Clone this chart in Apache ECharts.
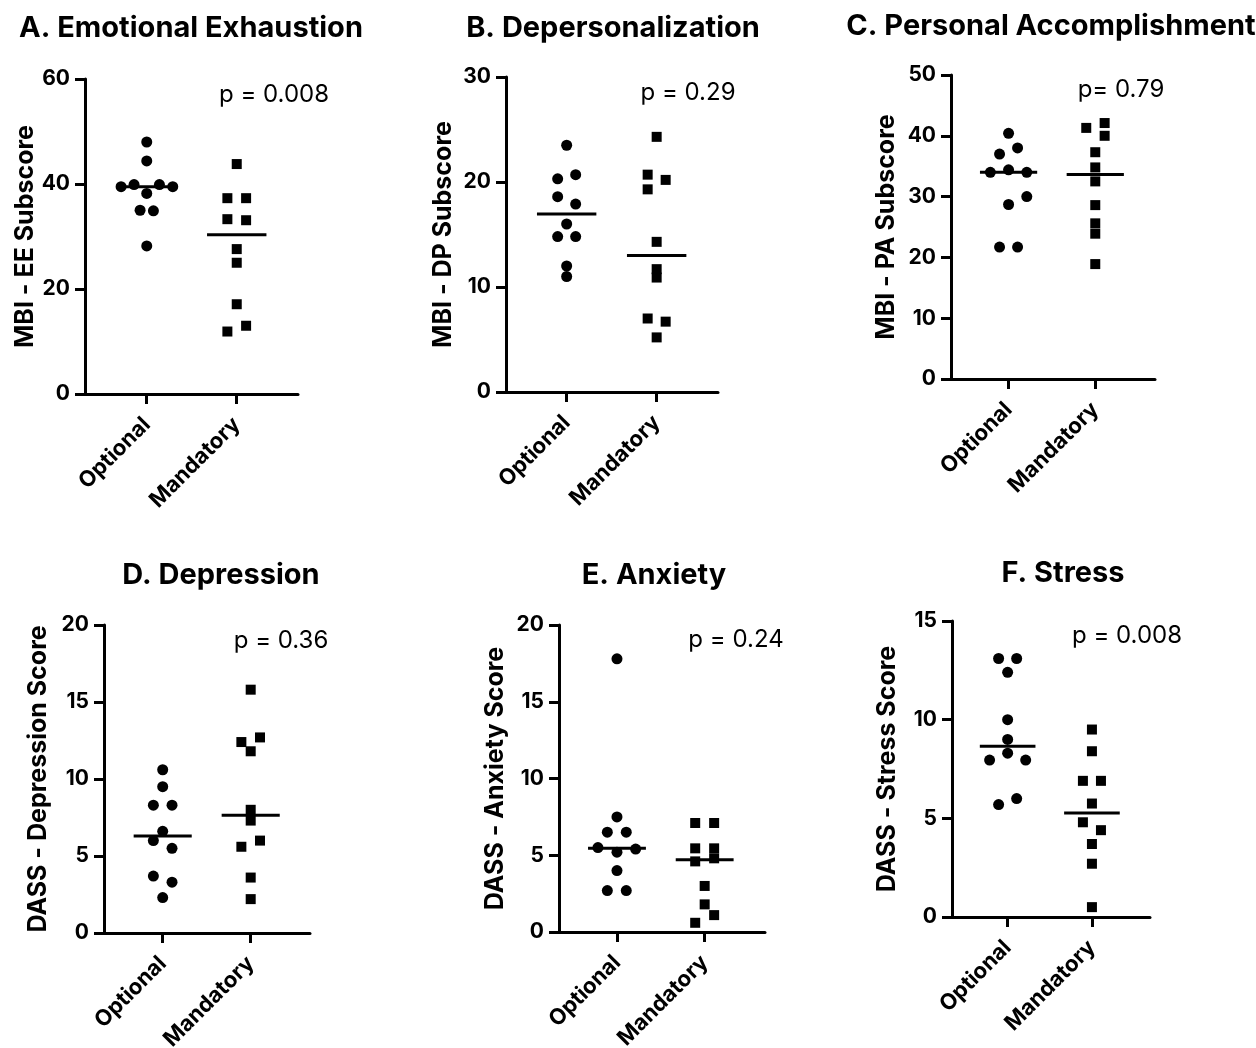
<!DOCTYPE html>
<html>
<head>
<meta charset="utf-8">
<script src="https://cdn.jsdelivr.net/npm/echarts@6/dist/echarts.min.js"></script>
<style>
  html, body { margin: 0; padding: 0; background: #fff; }
  #chart { width: 1256px; height: 1048px; }
</style>
</head>
<body>
<div id="chart"></div>
<script>
// group labels on the x axis
const groups = ['Optional', 'Mandatory'];

// A. Emotional Exhaustion
const eeOptional = [48.0, 44.4, 39.5, 39.9, 39.9, 39.5, 38.2, 35.0, 34.9, 28.2];
const eeOptionalJitter = [0, 0, -0.285, -0.141, 0.141, 0.289, 0, -0.074, 0.074, 0];
const eeMandatory = [43.8, 37.3, 37.3, 33.3, 33.1, 27.6, 25.0, 17.1, 13.0, 11.9];
const eeMandatoryJitter = [0, -0.104, 0.104, -0.104, 0.104, 0, 0, 0, 0.104, -0.104];

// B. Depersonalization
const dpOptional = [23.5, 20.3, 20.7, 18.6, 17.9, 16.0, 14.8, 14.8, 12.0, 11.0];
const dpOptionalJitter = [0, -0.1, 0.1, -0.1, 0.1, 0, -0.1, 0.1, 0, 0];
const dpMandatory = [24.3, 20.7, 20.2, 19.3, 14.3, 11.7, 10.9, 7.0, 6.7, 5.2];
const dpMandatoryJitter = [0, -0.1, 0.1, -0.1, 0, 0, 0, -0.1, 0.1, 0];

// C. Personal Accomplishment
const paOptional = [40.4, 38.0, 37.0, 34.0, 34.4, 34.0, 30.0, 28.7, 21.7, 21.7];
const paOptionalJitter = [0, 0.104, -0.104, -0.21, 0, 0.21, 0.21, 0, -0.104, 0.104];
const paMandatory = [41.3, 42.1, 40.0, 37.3, 34.8, 32.5, 28.6, 25.6, 23.9, 18.9];
const paMandatoryJitter = [-0.104, 0.108, 0.108, 0, 0, 0, 0, 0, 0, 0];

// D. Depression
const depOptional = [10.6, 9.5, 8.3, 8.3, 6.6, 6.0, 5.5, 3.7, 3.3, 2.3];
const depOptionalJitter = [0, 0, -0.106, 0.106, 0, -0.106, 0.106, -0.106, 0.106, 0];
const depMandatory = [15.8, 12.7, 12.4, 11.8, 8.0, 7.3, 6.0, 5.6, 3.6, 2.2];
const depMandatoryJitter = [0, 0.106, -0.106, 0, 0, 0, 0.106, -0.106, 0, 0];

// E. Anxiety
const anxOptional = [17.8, 7.5, 6.5, 6.5, 5.5, 5.2, 5.4, 4.0, 2.7, 2.7];
const anxOptionalJitter = [0, 0, -0.11, 0.106, -0.217, 0, 0.213, 0, -0.11, 0.106];
const anxMandatory = [7.1, 7.1, 5.45, 5.45, 4.6, 4.8, 3.0, 1.8, 1.1, 0.6];
const anxMandatoryJitter = [-0.108, 0.108, -0.108, 0.108, -0.108, 0.108, 0, 0, 0.108, -0.108];

// F. Stress
const strOptional = [13.1, 13.1, 12.4, 10.0, 9.0, 8.3, 7.95, 7.95, 6.0, 5.7];
const strOptionalJitter = [-0.107, 0.107, 0, 0, 0, 0, -0.214, 0.214, 0.107, -0.107];
const strMandatory = [9.5, 8.4, 6.9, 6.9, 5.75, 4.8, 4.4, 3.7, 2.7, 0.5];
const strMandatoryJitter = [0, 0, -0.107, 0.107, 0, -0.107, 0.107, 0, 0, 0];

const titles = ['A. Emotional Exhaustion', 'B. Depersonalization', 'C. Personal Accomplishment',
                'D. Depression', 'E. Anxiety', 'F. Stress'];
const yNames = ['MBI - EE Subscore', 'MBI - DP Subscore', 'MBI - PA Subscore',
                'DASS - Depression Score', 'DASS - Anxiety Score', 'DASS - Stress Score'];
const pLabels = ['p = 0.008', 'p = 0.29', 'p= 0.79', 'p = 0.36', 'p = 0.24', 'p = 0.008'];
const yMax = [60, 30, 50, 20, 20, 15];
const yStep = [20, 10, 10, 5, 5, 5];

const panelData = [
    [eeOptional, eeOptionalJitter, eeMandatory, eeMandatoryJitter],
    [dpOptional, dpOptionalJitter, dpMandatory, dpMandatoryJitter],
    [paOptional, paOptionalJitter, paMandatory, paMandatoryJitter],
    [depOptional, depOptionalJitter, depMandatory, depMandatoryJitter],
    [anxOptional, anxOptionalJitter, anxMandatory, anxMandatoryJitter],
    [strOptional, strOptionalJitter, strMandatory, strMandatoryJitter]
];

// layout of each panel in pixels
const layout = [
    { left: 85, top: 79, width: 213, height: 315, xMin: 0.314, span: 90, gap: 45, title: [191, 28], p: [274, 95] },
    { left: 506, top: 77, width: 212, height: 315, xMin: 0.326, span: 90, gap: 50, title: [613, 28], p: [688, 93] },
    { left: 951, top: 75, width: 204, height: 304, xMin: 0.336, span: 86.7, gap: 52, title: [1051, 26], p: [1121, 90] },
    { left: 104, top: 625, width: 206, height: 308, xMin: 0.333, span: 88, gap: 53, title: [221, 575], p: [281, 641] },
    { left: 559, top: 625, width: 206, height: 307, xMin: 0.339, span: 87.7, gap: 51, title: [654, 575], p: [736, 640] },
    { left: 952, top: 621, width: 198, height: 296, xMin: 0.34, span: 84.3, gap: 52, title: [1063, 573], p: [1127, 636] }
];

const FONT = 'Inter';
const MEDIAN_HALF = 0.33;

function median(values) {
    const s = values.slice().sort((a, b) => a - b);
    const m = Math.floor(s.length / 2);
    return s.length % 2 ? s[m] : (s[m - 1] + s[m]) / 2;
}

function jittered(values, jitter, center) {
    return values.map((v, i) => [center + jitter[i], v]);
}

const grid = [], xAxis = [], yAxis = [], series = [], graphic = [];

layout.forEach((L, i) => {
    grid.push({ left: L.left, top: L.top, width: L.width, height: L.height,
                containLabel: false, outerBoundsMode: 'none' });

    xAxis.push({
        gridIndex: i,
        type: 'value',
        min: L.xMin,
        max: L.xMin + L.width / L.span,
        splitLine: { show: false },
        axisLine: { show: true, onZero: false, lineStyle: { color: '#000', width: 3 } },
        axisTick: { show: true, customValues: [1, 2], length: 10, lineStyle: { color: '#000', width: 3 } },
        axisLabel: {
            customValues: [1, 2],
            formatter: v => groups[Math.round(v) - 1],
            rotate: 45,
            margin: 27,
            color: '#000',
            fontFamily: FONT,
            fontWeight: 'bold',
            fontSize: 22
        }
    });

    yAxis.push({
        gridIndex: i,
        type: 'value',
        min: 0,
        max: yMax[i],
        interval: yStep[i],
        name: yNames[i],
        nameLocation: 'middle',
        nameGap: L.gap,
        nameTextStyle: { color: '#000', fontFamily: FONT, fontWeight: 'bold', fontSize: 25 },
        splitLine: { show: false },
        axisLine: { show: true, lineStyle: { color: '#000', width: 3 } },
        axisTick: { show: true, length: 10, lineStyle: { color: '#000', width: 3 } },
        axisLabel: { margin: 15, color: '#000', fontFamily: FONT, fontWeight: 'bold', fontSize: 21 }
    });

    const [opt, optJit, man, manJit] = panelData[i];

    series.push({
        type: 'scatter', xAxisIndex: i, yAxisIndex: i,
        symbol: 'circle', symbolSize: 11,
        itemStyle: { color: '#000', opacity: 1 },
        data: jittered(opt, optJit, 1)
    });
    series.push({
        type: 'scatter', xAxisIndex: i, yAxisIndex: i,
        symbol: 'rect', symbolSize: 10,
        itemStyle: { color: '#000', opacity: 1 },
        data: jittered(man, manJit, 2)
    });
    [[opt, 1], [man, 2]].forEach(([vals, c]) => {
        const m = median(vals);
        series.push({
            type: 'line', xAxisIndex: i, yAxisIndex: i,
            symbol: 'none', silent: true,
            lineStyle: { color: '#000', width: 3 },
            data: [[c - MEDIAN_HALF, m], [c + MEDIAN_HALF, m]]
        });
    });

    graphic.push({
        type: 'text', x: L.title[0], y: L.title[1],
        style: { text: titles[i], fill: '#000', fontFamily: FONT, fontWeight: 'bold', fontSize: 29,
                 align: 'center', verticalAlign: 'middle' }
    });
    graphic.push({
        type: 'text', x: L.p[0], y: L.p[1],
        style: { text: pLabels[i], fill: '#000', fontFamily: FONT, fontWeight: 'normal', fontSize: 24,
                 align: 'center', verticalAlign: 'middle' }
    });
});

const myChart = echarts.init(document.getElementById('chart'), null, { renderer: 'canvas' });
myChart.setOption({
    animation: false,
    backgroundColor: '#fff',
    grid: grid,
    xAxis: xAxis,
    yAxis: yAxis,
    series: series,
    graphic: graphic
});
</script>
</body>
</html>
